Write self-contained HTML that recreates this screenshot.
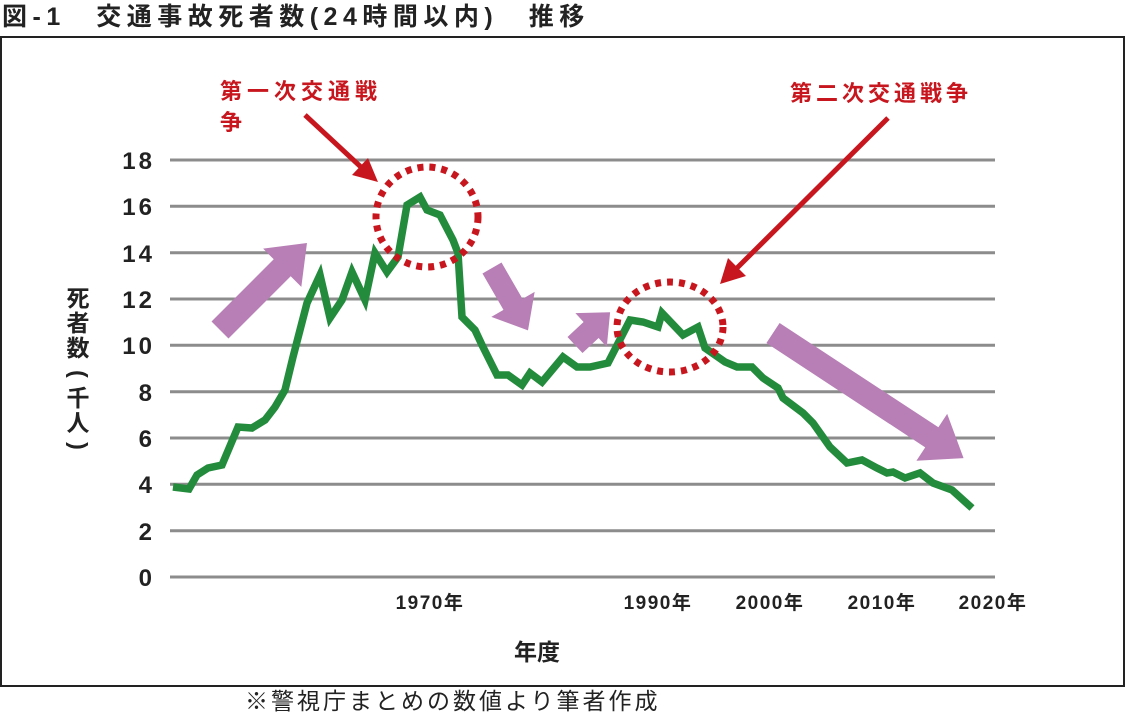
<!DOCTYPE html>
<html><head><meta charset="utf-8"><style>
body{margin:0;background:#fff;width:1126px;height:714px;overflow:hidden}
svg text{font-family:"Liberation Sans","Noto Sans CJK JP",sans-serif;font-weight:bold}
</style></head><body>
<svg width="1126" height="714" viewBox="0 0 1126 714">
<text x="2" y="25" font-size="25" letter-spacing="5.5" fill="#222">図-1　交通事故死者数(24時間以内)　推移</text>
<rect x="1" y="37" width="1123" height="649" fill="none" stroke="#222" stroke-width="2"/>
<g stroke="#8c8c8c" stroke-width="3">
<line x1="170" x2="995" y1="160" y2="160"/><line x1="170" x2="995" y1="206.3" y2="206.3"/>
<line x1="170" x2="995" y1="252.7" y2="252.7"/><line x1="170" x2="995" y1="299" y2="299"/>
<line x1="170" x2="995" y1="345.3" y2="345.3"/><line x1="170" x2="995" y1="391.7" y2="391.7"/>
<line x1="170" x2="995" y1="438" y2="438"/><line x1="170" x2="995" y1="484.3" y2="484.3"/>
<line x1="170" x2="995" y1="530.7" y2="530.7"/><line x1="170" x2="995" y1="577" y2="577"/>
</g>
<g font-size="24" letter-spacing="3" fill="#222" text-anchor="end">
<text x="155" y="169">18</text><text x="155" y="215">16</text><text x="155" y="262">14</text>
<text x="155" y="308">12</text><text x="155" y="354">10</text><text x="155" y="401">8</text>
<text x="155" y="447">6</text><text x="155" y="493">4</text><text x="155" y="540">2</text><text x="155" y="586">0</text>
</g>
<g font-size="19" letter-spacing="1.5" fill="#222" text-anchor="middle">
<text x="430" y="609">1970年</text><text x="658" y="609">1990年</text><text x="770" y="609">2000年</text>
<text x="882" y="609">2010年</text><text x="993" y="609">2020年</text>
</g>
<text x="537" y="660" font-size="23" fill="#222" text-anchor="middle">年度</text>
<g font-size="23" fill="#222" text-anchor="middle">
<text x="78" y="306">死</text><text x="78" y="331">者</text><text x="78" y="356">数</text>
<text x="78" y="381" transform="rotate(90 78 374)">(</text><text x="78" y="406">千</text><text x="78" y="431">人</text>
<text x="78" y="453" transform="rotate(90 78 446)">)</text>
</g>
<text x="245" y="709" font-size="23" letter-spacing="3" fill="#222" style="font-weight:normal">※警視庁まとめの数値より筆者作成</text>
<polyline fill="none" stroke="#238b3c" stroke-width="7.5" stroke-linejoin="miter" points="173,487 189,489 197,475 208,468 222,465 238,427 252,428 265,420 275,407 285,390 293,357 307,303 320,275 330,318 342,300 352,272 365,300 375,253 387,272 398,257 407,205 420,197 427,210 440,215 453,240 458,253 462,317 475,330 482,345 497,375 508,375 522,385 530,373 542,382 563,357 577,367 590,367 608,363 630,320 643,322 658,327 662,313 683,335 698,327 705,348 725,362 737,367 752,367 763,378 778,388 783,398 803,413 813,423 830,447 847,463 862,460 877,468 887,473 893,472 905,478 920,473 933,483 952,490 972,508"/>
<g fill="#b77fb5">
<polygon transform="translate(220,330) rotate(-45)" points="0,-12 88,-12 88,-27 123,0 88,27 88,12 0,12"/>
<polygon transform="translate(492,268) rotate(60)" points="0,-11 42,-11 42,-25 72,0 42,25 42,11 0,11"/>
<polygon transform="translate(575,345) rotate(-43)" points="0,-11 22,-11 22,-23 48,0 22,23 22,11 0,11"/>
<polygon transform="translate(773,333) rotate(33.3)" points="0,-12 190,-12 190,-28 228,0 190,28 190,12 0,12"/>
</g>
<g fill="none" stroke="#c8161e" stroke-width="7" stroke-dasharray="6 6">
<ellipse cx="427" cy="217" rx="51" ry="50"/>
<ellipse cx="670" cy="327" rx="53" ry="45"/>
</g>
<g stroke="#c8161e" stroke-width="5" fill="#c8161e">
<line x1="305" y1="115" x2="362" y2="168"/>
<polygon points="378,182 352,175 368,158" stroke="none"/>
<line x1="888" y1="118" x2="735" y2="270"/>
<polygon points="720,284 728,258 746,276" stroke="none"/>
</g>
<g font-size="22" letter-spacing="5" fill="#c8161e">
<text x="220" y="99">第一次交通戦</text><text x="220" y="130">争</text>
<text x="790" y="101" letter-spacing="4">第二次交通戦争</text>
</g>
</svg>
</body></html>
